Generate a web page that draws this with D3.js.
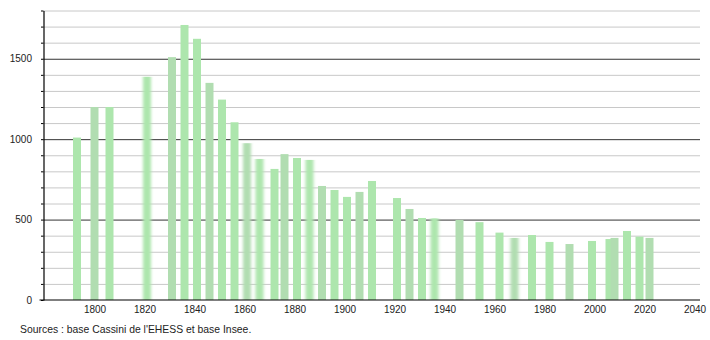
<!DOCTYPE html>
<html>
<head>
<meta charset="utf-8">
<script src="https://cdn.jsdelivr.net/npm/d3@7"></script>
<style>
  html, body { margin: 0; padding: 0; background: #fff; }
  svg text { font-family: "Liberation Sans", Arial, sans-serif; font-size: 10px; fill: #222; }
</style>
</head>
<body>
<svg id="chart" width="710" height="340"></svg>
<script>
// census years and population
const years = [1793, 1800, 1806, 1821, 1831, 1836, 1841, 1846, 1851, 1856,
  1861, 1866, 1872, 1876, 1881, 1886, 1891, 1896, 1901, 1906,
  1911, 1921, 1926, 1931, 1936, 1946, 1954, 1962, 1968, 1975,
  1982, 1990, 1999, 2006, 2008, 2013, 2018, 2022];
const population = [1010, 1200, 1200, 1388, 1510, 1710, 1624, 1350, 1246, 1105,
  975, 877, 815, 907, 883, 871, 709, 684, 641, 672,
  740, 634, 566, 510, 508, 498, 484, 419, 386, 404,
  361, 348, 367, 379, 386, 429, 394, 386];
const xTicks = [1800, 1820, 1840, 1860, 1880, 1900, 1920, 1940, 1960, 1980, 2000, 2020, 2040];
const yTicks = d3.range(0, 1801, 100);
const yLabels = [0, 500, 1000, 1500];
const source = "Sources : base Cassini de l'EHESS et base Insee.";

// bars that look smeared in the original
const soft = new Set([1821, 1861, 1866, 1886, 1936, 1968]);

const svg = d3.select('#chart');
const x = d3.scaleLinear().domain([1800, 2040]).range([94.5, 694.5]);
const y = d3.scaleLinear().domain([0, 1800]).range([300, 10.5]);
const axisX = 43.5;
const rightEdge = 700;

const defs = svg.append('defs');
defs.append('filter').attr('id', 'soft').attr('x', '-50%').attr('width', '200%')
  .append('feGaussianBlur').attr('stdDeviation', '1.5 0.6');

// grid lines
const grid = svg.append('g').attr('transform', `translate(${axisX},0)`)
  .call(d3.axisLeft(y).tickValues(yTicks.filter((d) => d > 0)).tickSize(-(rightEdge - axisX)).tickFormat(''));
grid.select('.domain').remove();
grid.selectAll('line')
  .attr('stroke', (d) => (d % 500 === 0 ? '#333' : '#c8c8c8'))
  .attr('stroke-width', 1);

// bars
const data = years.map((yr, i) => ({ year: yr, value: population[i] }));
const barW = 8;
svg.append('g')
  .selectAll('rect')
  .data(data)
  .join('rect')
  .attr('x', (d) => x(d.year) - barW / 2)
  .attr('y', (d) => y(d.value))
  .attr('width', barW)
  .attr('height', (d) => y(0) - y(d.value))
  .attr('fill', (d, i) => (i % 3 === 1 ? '#b1ddb1' : '#ade6ad'))
  .attr('filter', (d) => (soft.has(d.year) ? 'url(#soft)' : null));

// y axis
const yAxis = svg.append('g').attr('transform', `translate(${axisX},0)`)
  .call(d3.axisLeft(y).tickValues(yTicks).tickSize(2.5).tickSizeOuter(0).tickPadding(9)
    .tickFormat((d) => (yLabels.includes(d) ? d : '')));
yAxis.select('.domain').attr('stroke', '#000').attr('stroke-width', 1.2);
yAxis.selectAll('line').attr('stroke', '#000');
yAxis.selectAll('text').attr('fill', '#222').style('font-size', '10px')
  .style('font-family', '"Liberation Sans", Arial, sans-serif');

// x axis
const xAxis = svg.append('g').attr('transform', 'translate(0,300)')
  .call(d3.axisBottom(x).tickValues(xTicks).tickSize(0).tickPadding(6).tickFormat(d3.format('d')));
xAxis.select('.domain').remove();
xAxis.selectAll('text').attr('fill', '#222').style('font-size', '10px')
  .style('font-family', '"Liberation Sans", Arial, sans-serif');
xAxis.append('line')
  .attr('x1', 39.5).attr('x2', rightEdge)
  .attr('stroke', '#000').attr('stroke-width', 1.2);

svg.append('text')
  .attr('x', 20)
  .attr('y', 332.5)
  .style('font-size', '10.4px')
  .text(source);
</script>
</body>
</html>
